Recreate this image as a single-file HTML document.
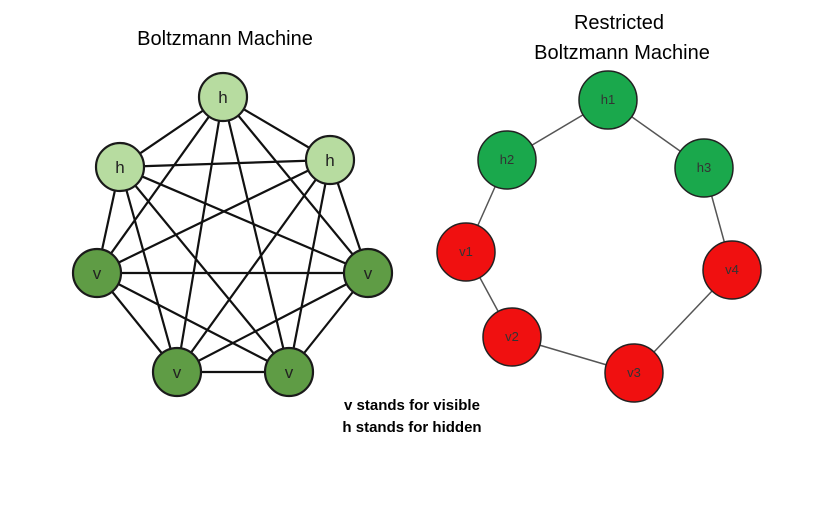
<!DOCTYPE html>
<html><head><style>body{margin:0;background:#fff}svg{display:block}</style></head><body>
<svg width="817" height="509" xmlns="http://www.w3.org/2000/svg" font-family="Liberation Sans, sans-serif">
<text x="225" y="45" font-size="20" text-anchor="middle" fill="#000">Boltzmann Machine</text>
<text x="619" y="29" font-size="20" text-anchor="middle" fill="#000">Restricted</text>
<text x="622" y="59" font-size="20" text-anchor="middle" fill="#000">Boltzmann Machine</text>
<g stroke="#111" stroke-width="2.2" id="e"></g>
<g id="left"></g>
<g stroke="#555" stroke-width="1.5">
<line x1="608" y1="100" x2="507" y2="160"/><line x1="608" y1="100" x2="704" y2="168"/>
<line x1="507" y1="160" x2="466" y2="252"/><line x1="704" y1="168" x2="732" y2="270"/>
<line x1="466" y1="252" x2="512" y2="337"/><line x1="512" y1="337" x2="634" y2="373"/>
<line x1="634" y1="373" x2="732" y2="270"/>
</g>
<g stroke="#222" stroke-width="1.5" font-size="13" text-anchor="middle">
<circle cx="608" cy="100" r="29" fill="#1aa84c"/><circle cx="507" cy="160" r="29" fill="#1aa84c"/><circle cx="704" cy="168" r="29" fill="#1aa84c"/>
<circle cx="466" cy="252" r="29" fill="#f01010"/><circle cx="732" cy="270" r="29" fill="#f01010"/><circle cx="512" cy="337" r="29" fill="#f01010"/><circle cx="634" cy="373" r="29" fill="#f01010"/>
</g>
<g font-size="13" text-anchor="middle" fill="#333">
<text x="608" y="104">h1</text><text x="507" y="164">h2</text><text x="704" y="172">h3</text>
<text x="466" y="256">v1</text><text x="732" y="274">v4</text><text x="512" y="341">v2</text><text x="634" y="377">v3</text>
</g>
<text x="412" y="410" font-size="15" font-weight="bold" text-anchor="middle">v stands for visible</text>
<text x="412" y="432" font-size="15" font-weight="bold" text-anchor="middle">h stands for hidden</text>
<script>
var n=[[223,97,'h'],[120,167,'h'],[330,160,'h'],[97,273,'v'],[368,273,'v'],[177,372,'v'],[289,372,'v']];
var ns='http://www.w3.org/2000/svg',e=document.getElementById('e'),L=document.getElementById('left');
for(var i=0;i<7;i++)for(var j=i+1;j<7;j++){var l=document.createElementNS(ns,'line');l.setAttribute('x1',n[i][0]);l.setAttribute('y1',n[i][1]);l.setAttribute('x2',n[j][0]);l.setAttribute('y2',n[j][1]);e.appendChild(l);}
n.forEach(function(p){var c=document.createElementNS(ns,'circle');c.setAttribute('cx',p[0]);c.setAttribute('cy',p[1]);c.setAttribute('r',24);c.setAttribute('fill',p[2]=='h'?'#b7dca0':'#5f9c45');c.setAttribute('stroke','#1a1a1a');c.setAttribute('stroke-width','2.2');L.appendChild(c);
var t=document.createElementNS(ns,'text');t.setAttribute('x',p[0]);t.setAttribute('y',p[1]+6);t.setAttribute('font-size','17');t.setAttribute('text-anchor','middle');t.setAttribute('fill','#222');t.textContent=p[2];L.appendChild(t);});
</script>
</svg>
</body></html>
